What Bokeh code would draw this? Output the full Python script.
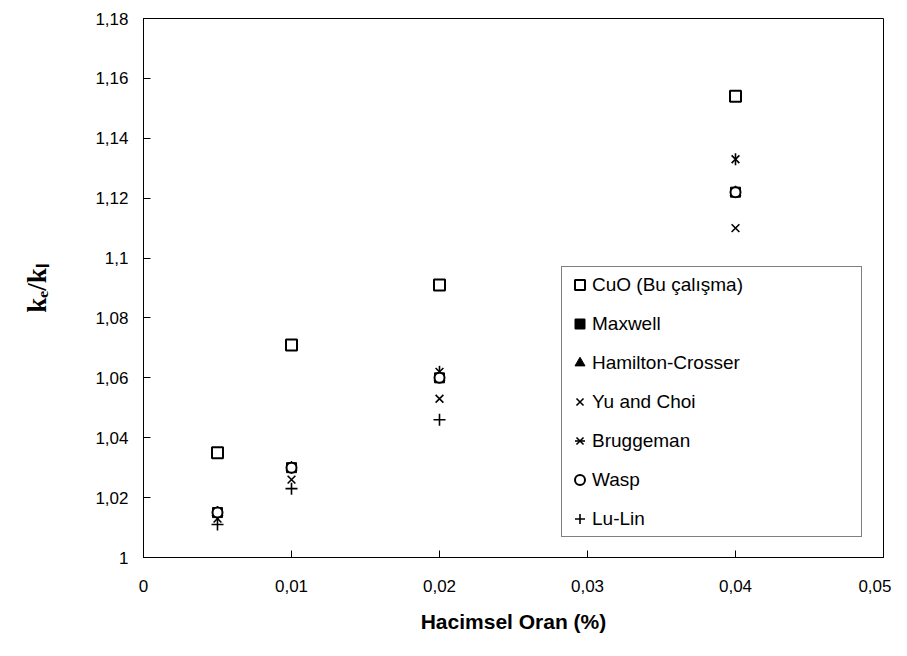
import math
from bokeh.plotting import figure
from bokeh.models import FixedTicker, Legend, LegendItem, Range1d
from bokeh.embed import file_html
from bokeh.resources import INLINE

# ---- data ----
phi = [0.005, 0.01, 0.02, 0.04]
cuo = [1.035, 1.071, 1.091, 1.154]
maxwell = [1.015, 1.030, 1.060, 1.122]
hamilton = [1.015, 1.030, 1.060, 1.122]
yu_choi = [1.013, 1.026, 1.053, 1.110]
bruggeman = [1.015, 1.030, 1.062, 1.133]
wasp = [1.015, 1.030, 1.060, 1.122]
lu_lin = [1.011, 1.023, 1.046, 1.094]

series_names = ["CuO (Bu çalışma)", "Maxwell", "Hamilton-Crosser", "Yu and Choi",
                "Bruggeman", "Wasp", "Lu-Lin"]

x_ticks = [0, 0.01, 0.02, 0.03, 0.04, 0.05]
x_tick_labels = ["0", "0,01", "0,02", "0,03", "0,04", "0,05"]
y_ticks = [1.0, 1.02, 1.04, 1.06, 1.08, 1.1, 1.12, 1.14, 1.16, 1.18]
y_tick_labels = ["1", "1,02", "1,04", "1,06", "1,08", "1,1", "1,12", "1,14", "1,16", "1,18"]

x_title = "Hacimsel Oran (%)"
y_title = "kₑ/kₗ"

FONT = "Liberation Sans"

p = figure(width=891, height=640, output_backend="svg", toolbar_location=None,
           x_range=Range1d(0, 0.05), y_range=Range1d(1.0, 1.18),
           min_border_left=143, min_border_right=8, min_border_top=18, min_border_bottom=83)
p.grid.visible = False
p.outline_line_color = "black"
p.outline_line_width = 1
p.background_fill_color = "white"
p.border_fill_color = "white"

p.xaxis.ticker = FixedTicker(ticks=x_ticks)
p.yaxis.ticker = FixedTicker(ticks=y_ticks)
p.xaxis.major_label_overrides = {t: l for t, l in zip(x_ticks, x_tick_labels)}
p.yaxis.major_label_overrides = {t: l for t, l in zip(y_ticks, y_tick_labels)}
for ax in (p.xaxis, p.yaxis):
    ax.axis_line_color = "black"
    ax.major_tick_line_color = "black"
    ax.major_tick_in = 7
    ax.major_tick_out = 0
    ax.minor_tick_line_color = None
    ax.major_label_text_font = FONT
    ax.major_label_text_font_size = "17px"
    ax.major_label_text_color = "black"
p.xaxis.major_label_standoff = 22
p.yaxis.major_label_standoff = 15
p.xaxis.axis_label = x_title
p.xaxis.axis_label_text_font = FONT
p.xaxis.axis_label_text_font_style = "bold"
p.xaxis.axis_label_text_font_size = "21px"
p.xaxis.axis_label_text_color = "black"
p.xaxis.axis_label_standoff = 15

p.yaxis.axis_label = y_title
p.yaxis.axis_label_text_font = "Liberation Serif"
p.yaxis.axis_label_text_font_style = "bold"
p.yaxis.axis_label_text_font_size = "27px"
p.yaxis.axis_label_text_color = "black"
p.yaxis.axis_label_standoff = 40

r_cuo = p.scatter(phi, cuo, marker="square", size=11, fill_color="white",
                  line_color="black", line_width=2)
r_max = p.scatter(phi, maxwell, marker="square", size=10, fill_color="black",
                  line_color="black", line_width=1)
r_ham = p.scatter(phi, hamilton, marker="triangle", size=11, fill_color="black",
                  line_color="black", line_width=1)
r_yu = p.scatter(phi, yu_choi, marker="x", size=11, line_color="black", line_width=1.6)
r_br1 = p.scatter(phi, bruggeman, marker="x", size=11, line_color="black", line_width=1.6)
r_br2 = p.scatter(phi, bruggeman, marker="dash", size=12, angle=math.pi / 2,
                  line_color="black", line_width=1.6)
r_wasp = p.scatter(phi, wasp, marker="circle", size=10, fill_color="white",
                   line_color="black", line_width=2)
r_lu = p.scatter(phi, lu_lin, marker="cross", size=12, line_color="black", line_width=1.6)

items = [
    LegendItem(label=series_names[0], renderers=[r_cuo]),
    LegendItem(label=series_names[1], renderers=[r_max]),
    LegendItem(label=series_names[2], renderers=[r_ham]),
    LegendItem(label=series_names[3], renderers=[r_yu]),
    LegendItem(label=series_names[4], renderers=[r_br1, r_br2]),
    LegendItem(label=series_names[5], renderers=[r_wasp]),
    LegendItem(label=series_names[6], renderers=[r_lu]),
]
legend = Legend(items=items, location=(418, 20), orientation="vertical",
                border_line_color="black", border_line_width=1,
                background_fill_color="white", background_fill_alpha=1,
                padding=5, spacing=14, glyph_width=25, glyph_height=25,
                label_height=25, label_width=264, label_standoff=0,
                label_text_font=FONT, label_text_font_size="19px",
                label_text_color="black", margin=0)
p.add_layout(legend, "center")

open("out.html", "w").write(file_html(p, INLINE))
